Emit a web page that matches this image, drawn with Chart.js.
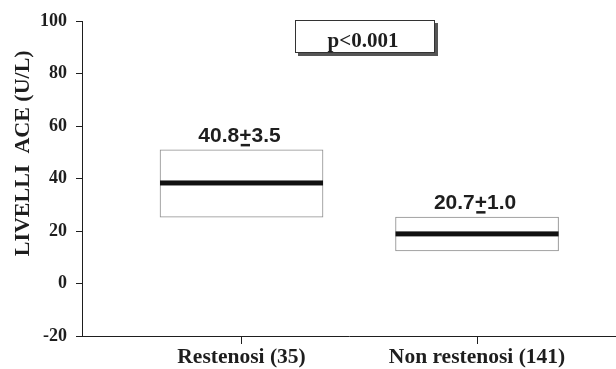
<!DOCTYPE html>
<html><head><meta charset="utf-8">
<script src="https://cdn.jsdelivr.net/npm/chart.js@4"></script>
<style>html,body{margin:0;padding:0;background:#fff}#wrap{width:616px;height:369px}</style>
</head><body><div id="wrap"><canvas id="c" width="616" height="369"></canvas></div>
<script>
// ACE levels per group: box range, central line, mean ± SE
const groups = ['Restenosi (35)', 'Non restenosi (141)'];
const boxLow = [25.3, 12.4];
const boxHigh = [50.9, 25.3];
const medians = [38.3, 18.9];
const means = ['40.8', '20.7'];
const stdErrors = ['3.5', '1.0'];
const yTicks = [-20, 0, 20, 40, 60, 80, 100];
const pValueText = 'p<0.001';
const yTitle = 'LIVELLI  ACE (U/L)';

const SERIF = '"Liberation Serif", "Times New Roman", serif';
const SANS = '"Liberation Sans", Arial, sans-serif';
const INK = '#1e1e1e';

const boxData = groups.map((g, i) => ({ x: i + 1, y: [boxLow[i], boxHigh[i]] }));

// mean, an underlined plus (±), then the standard error, centred on cx
function drawMeanLabel(ctx, cx, baseline, mean, se) {
  ctx.font = 'bold 21px ' + SANS;
  ctx.textAlign = 'left';
  ctx.textBaseline = 'alphabetic';
  const wA = ctx.measureText(mean).width;
  const wP = ctx.measureText('+').width;
  const wB = ctx.measureText(se).width;
  let x = cx - (wA + wP + wB) / 2;
  ctx.fillText(mean, x, baseline);
  x += wA;
  ctx.fillText('+', x, baseline);
  ctx.fillRect(x + 1.5, baseline + 2, wP - 3, 2.5);
  x += wP;
  ctx.fillText(se, x, baseline);
}

const overlay = {
  id: 'overlay',
  afterDatasetsDraw(chart) {
    const ctx = chart.ctx;
    const ys = chart.scales.y;
    const meta = chart.getDatasetMeta(0);
    ctx.save();
    meta.data.forEach((el, i) => {
      const w = el.width;
      const top = Math.min(el.y, el.base);
      const my = ys.getPixelForValue(medians[i]);
      ctx.fillStyle = '#111';
      ctx.fillRect(el.x - w / 2, my - 2.5, w, 5);
      ctx.fillStyle = INK;
      drawMeanLabel(ctx, el.x - 2, top - 8, means[i], stdErrors[i]);
    });
    // significance box
    const a = chart.chartArea;
    const bx = a.left + 213, by = 20, bw = 140, bh = 33;
    ctx.fillStyle = '#555';
    ctx.fillRect(bx + 3, by + 3, bw, bh);
    ctx.fillStyle = '#fff';
    ctx.fillRect(bx, by, bw, bh);
    ctx.strokeStyle = '#333';
    ctx.lineWidth = 1;
    ctx.strokeRect(bx + 0.5, by + 0.5, bw - 1, bh - 1);
    ctx.fillStyle = INK;
    ctx.font = 'bold 21px ' + SERIF;
    ctx.textAlign = 'center';
    ctx.textBaseline = 'alphabetic';
    ctx.fillText(pValueText, bx + bw / 2 - 2, by + 27);
    // y-axis title, rotated, sitting a little above the axis middle
    ctx.translate(23, a.top + (a.bottom - a.top) * 0.42);
    ctx.rotate(-Math.PI / 2);
    ctx.font = 'bold 22px ' + SERIF;
    ctx.textBaseline = 'middle';
    ctx.textAlign = 'center';
    ctx.fillText(yTitle, 0, 0);
    ctx.restore();
  }
};

new Chart(document.getElementById('c'), {
  type: 'bar',
  data: {
    datasets: [{
      data: boxData,
      backgroundColor: '#fff',
      borderColor: '#8c8c8c',
      borderWidth: 1,
      borderSkipped: false,
      barThickness: 163
    }]
  },
  options: {
    responsive: false,
    animation: false,
    layout: { padding: { top: 21, right: 0, left: 0, bottom: 0 } },
    plugins: { legend: { display: false }, tooltip: { enabled: false } },
    scales: {
      x: {
        type: 'linear',
        offset: false,
        min: 0.3227,
        max: 2.590,
        afterBuildTicks(s) { s.ticks = groups.map((g, i) => ({ value: i + 1 })); },
        afterFit(s) { s.height = 33; },
        ticks: {
          callback: v => groups[v - 1],
          font: { family: SERIF, size: 21.5, weight: 'bold' },
          color: INK,
          padding: 1,
          maxRotation: 0,
          autoSkip: false
        },
        grid: { offset: false, drawOnChartArea: false, tickLength: 8, color: INK },
        border: { color: INK, width: 1 }
      },
      y: {
        min: -20,
        max: 100,
        afterBuildTicks(s) { s.ticks = yTicks.map(v => ({ value: v })); },
        afterFit(s) { s.width = 82; },
        ticks: {
          font: { family: SERIF, size: 18, weight: 'bold' },
          color: INK,
          padding: 9
        },
        grid: { drawOnChartArea: false, tickLength: 6, color: INK },
        border: { color: INK, width: 1 }
      }
    }
  },
  plugins: [overlay]
});
</script>
</body></html>
